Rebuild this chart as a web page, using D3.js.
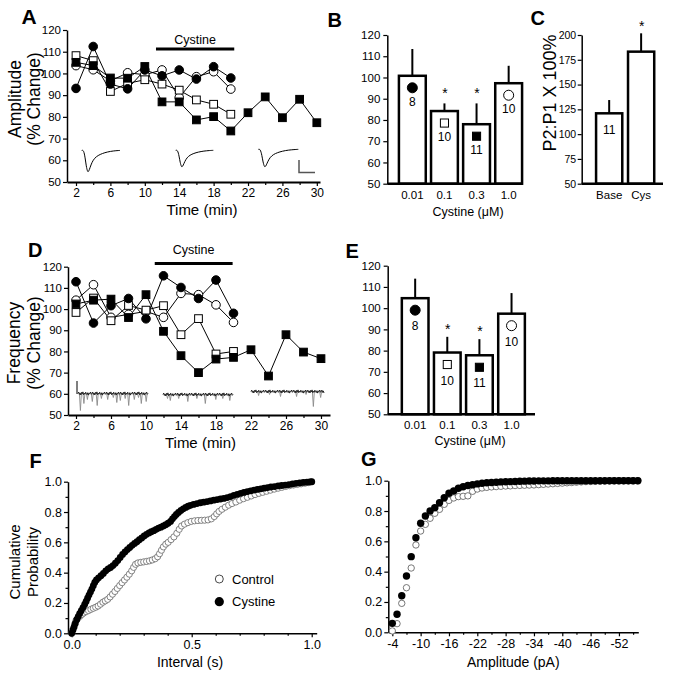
<!DOCTYPE html>
<html><head><meta charset="utf-8">
<script src="https://cdn.jsdelivr.net/npm/d3@7"></script>
<style>
body{margin:0;background:#fff;}
svg text{font-family:"Liberation Sans",Arial,sans-serif;fill:#000;}
</style></head><body>
<svg id="fig" width="676" height="673"></svg>
<script>
// ---------------- DATA ----------------
const timesShort = [2,4,6,8,10,12,14,16,18,20];
const timesLong  = [2,4,6,8,10,12,14,16,18,20,22,24,26,28,30];
const timeTicks  = [2,4,6,8,10,12,14,16,18,20,22,24,26,28,30];
const timeTickLabels = [2,6,10,14,18,22,26,30];
const pctTicks = [50,60,70,80,90,100,110,120];

// Panel A: amplitude (% change)
const ampFilledCircle = [93.1,112.4,95.1,92.9,101.6,98.9,101.6,97.4,103.1,97.9];
const ampOpenCircle   = [103.6,101.7,96.5,100.3,99.4,101.6,88.9,98.5,100.8,92.8];
const ampOpenSquare   = [108.2,105.9,91.7,95.4,97.1,95.1,92.3,87.8,85.8,81.2];
const ampFilledSquare = [105.1,103.6,97.9,97.8,103.2,86.9,86.9,78.6,80.1,73.5,81.9,89.2,79.6,88.1,77.3];
const cystineWindowA = [11.3,20.4];

// Panel D: frequency (% change)
const freqFilledCircle = [112.9,93.4,101.6,105,95.4,115.7,110.2,105,113.7,98];
const freqOpenCircle   = [104.2,111.5,96.1,97.5,98.9,96.1,107.4,106.8,102,93.7];
const freqOpenSquare   = [98.4,105.2,94.5,101.7,99.5,101.6,87.9,95.5,78.8,80];
const freqFilledSquare = [102.4,104.2,104.7,96,106.8,89.5,78,70,76.4,77.2,80.8,68.4,87.9,79.7,76.6];
const cystineWindowD = [11.0,19.9];

// Panels B / E: dose bars
const concLabels = ["0.01","0.1","0.3","1.0"];
const concSymbols = ["fc","os","fs","oc"];
const ampMean = [100.8,84.2,78.0,97.3];
const ampSem  = [12.6,3.6,9.8,8.2];
const ampN    = [8,10,11,10];
const ampSig  = [false,true,true,false];
const freqMean = [104.7,79.1,77.8,97.4];
const freqSem  = [9.2,7.4,7.6,9.7];
const freqN    = [8,10,11,10];
const freqSig  = [false,true,true,false];

// Panel C: paired-pulse ratio
const ppLabels = ["Base","Cys"];
const ppMean = [121,183.2];
const ppSem  = [13.4,18.5];
const ppN    = ["11",""];
const ppSig  = [false,true];
const ppTicks = [50,75,100,125,150,175,200];

// Panel F: cumulative probability of inter-event interval (s)
const intervalCystine = [
[0.000,0.000],[0.005,0.020],[0.010,0.042],[0.015,0.065],[0.021,0.090],[0.027,0.110],[0.033,0.130],[0.040,0.150],
[0.047,0.170],[0.054,0.190],[0.060,0.210],[0.066,0.232],[0.072,0.252],[0.078,0.272],[0.084,0.292],[0.090,0.314],
[0.096,0.335],[0.103,0.352],[0.112,0.366],[0.122,0.380],[0.132,0.395],[0.142,0.412],[0.152,0.425],[0.162,0.434],
[0.172,0.447],[0.182,0.462],[0.192,0.480],[0.202,0.500],[0.212,0.520],[0.222,0.537],[0.232,0.552],[0.242,0.566],
[0.252,0.580],[0.262,0.593],[0.272,0.604],[0.282,0.617],[0.292,0.629],[0.302,0.642],[0.312,0.653],[0.322,0.662],
[0.332,0.670],[0.342,0.677],[0.352,0.686],[0.362,0.694],[0.372,0.700],[0.382,0.708],[0.392,0.716],[0.402,0.726],
[0.412,0.738],[0.420,0.755],[0.428,0.770],[0.436,0.784],[0.445,0.797],[0.455,0.810],[0.465,0.821],[0.475,0.830],
[0.485,0.838],[0.495,0.844],[0.508,0.850],[0.522,0.856],[0.536,0.861],[0.550,0.865],[0.564,0.869],[0.578,0.873],
[0.592,0.878],[0.606,0.882],[0.620,0.886],[0.634,0.890],[0.648,0.895],[0.662,0.902],[0.676,0.910],[0.690,0.917],
[0.704,0.923],[0.718,0.929],[0.732,0.935],[0.746,0.940],[0.760,0.945],[0.774,0.949],[0.788,0.953],[0.802,0.957],
[0.816,0.961],[0.830,0.965],[0.845,0.968],[0.860,0.972],[0.875,0.975],[0.890,0.978],[0.905,0.981],[0.920,0.985],
[0.935,0.989],[0.950,0.992],[0.965,0.995],[0.980,0.997],[0.992,0.999],[1.000,1.000]];
const intervalControl = [
[0.000,0.000],[0.006,0.030],[0.012,0.060],[0.018,0.085],[0.026,0.100],[0.034,0.112],[0.042,0.124],[0.050,0.134],
[0.060,0.143],[0.070,0.150],[0.080,0.158],[0.090,0.165],[0.100,0.172],[0.110,0.180],[0.120,0.192],[0.130,0.205],
[0.140,0.214],[0.150,0.224],[0.160,0.240],[0.170,0.258],[0.180,0.276],[0.190,0.296],[0.200,0.315],[0.210,0.334],
[0.220,0.352],[0.230,0.370],[0.240,0.390],[0.250,0.412],[0.258,0.435],[0.266,0.455],[0.276,0.464],[0.288,0.468],
[0.300,0.471],[0.312,0.474],[0.324,0.478],[0.336,0.484],[0.348,0.492],[0.358,0.505],[0.366,0.525],[0.374,0.548],
[0.382,0.570],[0.392,0.588],[0.402,0.600],[0.414,0.618],[0.426,0.636],[0.438,0.660],[0.448,0.686],[0.458,0.708],
[0.470,0.720],[0.484,0.730],[0.498,0.738],[0.512,0.742],[0.526,0.744],[0.540,0.745],[0.554,0.746],[0.568,0.748],
[0.582,0.755],[0.594,0.770],[0.604,0.788],[0.614,0.804],[0.626,0.818],[0.640,0.832],[0.654,0.845],[0.668,0.856],
[0.684,0.866],[0.700,0.878],[0.716,0.888],[0.732,0.897],[0.748,0.906],[0.764,0.915],[0.780,0.923],[0.796,0.930],
[0.812,0.937],[0.828,0.944],[0.844,0.951],[0.860,0.957],[0.876,0.963],[0.892,0.969],[0.908,0.974],[0.924,0.978],
[0.940,0.982],[0.956,0.986],[0.972,0.990],[0.988,0.994],[1.000,0.998]];

// Panel G: cumulative probability of amplitude (pA), bins -4 .. -56
const ampBins = [-4,-5,-6,-7,-8,-9,-10,-11,-12,-13,-14,-15,-16,-17,-18,-19,-20,-21,-22,-23,-24,-25,-26,-27,-28,-29,-30,
 -31,-32,-33,-34,-35,-36,-37,-38,-39,-40,-41,-42,-43,-44,-45,-46,-47,-48,-49,-50,-51,-52,-53,-54,-55,-56];
const ampCdfCystine = [0.059,0.119,0.241,0.371,0.499,0.624,0.719,0.767,0.800,0.822,0.855,0.888,0.917,0.932,0.950,0.960,0.968,
 0.974,0.979,0.983,0.986,0.988,0.990,0.992,0.993,0.994,0.995,0.996,0.997,0.998,0.998,0.999,0.999,0.999,1,1,1,1,1,1,1,1,1,1,1,1,1,1,1,1,1,1,1];
const ampCdfControl = [0.009,0.057,0.191,0.294,0.424,0.576,0.668,0.712,0.752,0.785,0.811,0.844,0.870,0.886,0.895,0.897,0.900,
 0.930,0.945,0.952,0.956,0.959,0.961,0.963,0.965,0.966,0.968,0.969,0.970,0.971,0.972,0.974,0.976,0.978,0.980,0.982,0.984,
 0.986,0.988,0.990,0.992,0.994,0.995,0.996,0.997,0.998,0.999,1,1,1,1,1,1];
const ampAxisTicks = [-4,-10,-16,-22,-28,-34,-40,-46,-52];

// Inset illustrations (normalised shapes)
const epscShape = [[0,0.02],[0.05,0],[0.09,0.35],[0.12,0.75],[0.15,0.97],[0.17,1],[0.2,0.9],[0.24,0.68],[0.3,0.45],
 [0.38,0.3],[0.48,0.2],[0.6,0.12],[0.75,0.06],[0.9,0.03],[1,0.02]];
const noisePattern = [0,-1.4,0.9,-0.6,1.5,-1.1,0.4,-1.6,1.2,-0.3,0.7,-1.3,0.3,1.1,-0.8,1.6,-0.5,0.2,-1.5,0.8];
const spikeSets = [
 [[0.03,17],[0.08,10],[0.13,6],[0.2,8],[0.27,12],[0.33,5],[0.42,6],[0.5,4],[0.55,9],[0.6,7],[0.67,5],[0.72,12],[0.8,6],[0.86,4],[0.9,10],[0.97,8]],
 [[0.06,4],[0.1,6],[0.22,4],[0.35,7],[0.48,4],[0.6,9],[0.75,5],[0.85,4],[0.95,6]],
 [[0.1,4],[0.25,3],[0.4,5],[0.62,5],[0.75,3],[0.85,15],[0.95,6]]];

// ---------------- DRAWING ----------------
const FONT = '"Liberation Sans", Arial, sans-serif';
const svg = d3.select("#fig");
svg.append("rect").attr("width",676).attr("height",673).attr("fill","#fff");

function styleAxis(g, fs, sw){
  g.attr("font-family", FONT).attr("font-size", fs);
  g.select(".domain").attr("stroke-width", sw).attr("stroke","#000");
  g.selectAll(".tick line").attr("stroke-width", 1.2).attr("stroke","#000");
  g.selectAll(".tick text").attr("fill","#000");
}
function text(x,y,str,opts={}){
  const t = svg.append("text").attr("x",x).attr("y",y).text(str)
    .attr("font-size", opts.size||12).attr("text-anchor", opts.anchor||"middle");
  if (opts.bold) t.attr("font-weight","bold");
  return t;
}
function rotText(x,y,str,size){
  svg.append("text").attr("transform",`translate(${x},${y}) rotate(-90)`)
    .attr("text-anchor","middle").attr("font-size",size).text(str);
}
function sym(g,type,x,y,r){
  if (type==="fc"||type==="oc"){
    g.append("circle").attr("cx",x).attr("cy",y).attr("r",r)
      .attr("fill", type==="fc"?"#000":"#fff").attr("stroke","#000").attr("stroke-width",1);
  } else {
    const s = r*0.9;
    g.append("rect").attr("x",x-s).attr("y",y-s).attr("width",2*s).attr("height",2*s)
      .attr("fill", type==="fs"?"#000":"#fff").attr("stroke","#000").attr("stroke-width",1);
  }
}

// ---- time-course panels (A, D) ----
function timePanel(cfg){
  const g = svg.append("g");
  const x = d3.scaleLinear().domain(cfg.xDomain).range(cfg.xRange);
  const y = d3.scaleLinear().domain([50,120]).range(cfg.yRange);
  const ya = g.append("g").attr("transform",`translate(${cfg.xRange[0]},0)`)
    .call(d3.axisLeft(y).tickValues(pctTicks).tickSize(4).tickSizeOuter(0).tickPadding(2));
  styleAxis(ya,11.5,1.5);
  const xa = g.append("g").attr("transform",`translate(0,${cfg.yRange[0]})`)
    .call(d3.axisBottom(x).tickValues(timeTicks).tickSize(4).tickSizeOuter(0).tickPadding(2)
      .tickFormat(d => timeTickLabels.includes(d) ? d : ""));
  styleAxis(xa,12,1.8);
  xa.selectAll(".tick line").attr("y2", d => timeTickLabels.includes(d) ? 4 : 3);

  // cystine bar
  g.append("line").attr("x1",x(cfg.window[0])).attr("x2",x(cfg.window[1]))
    .attr("y1",cfg.barY).attr("y2",cfg.barY).attr("stroke","#000").attr("stroke-width",3);
  text((x(cfg.window[0])+x(cfg.window[1]))/2, cfg.barY-cfg.labelOff, "Cystine", {size:12.5});

  const line = d3.line().x(d=>x(d[0])).y(d=>y(d[1]));
  cfg.series.forEach(s=>{
    const pts = s.t.map((t,i)=>[t,s.v[i]]);
    g.append("path").attr("d",line(pts)).attr("fill","none").attr("stroke","#000").attr("stroke-width",1);
  });
  cfg.series.forEach(s=>{
    s.t.forEach((t,i)=> sym(g,s.sym,x(t),y(s.v[i]),4.3));
  });
  return {g,x,y};
}

const A = timePanel({xDomain:[0.953,30.37], xRange:[67,320], yRange:[182,30], window:cystineWindowA, barY:49, labelOff:5.5,
  series:[
    {t:timesShort, v:ampOpenCircle, sym:"oc"},
    {t:timesShort, v:ampOpenSquare, sym:"os"},
    {t:timesLong,  v:ampFilledSquare, sym:"fs"},
    {t:timesShort, v:ampFilledCircle, sym:"fc"}]});

const D = timePanel({xDomain:[1.086,31.03], xRange:[68,330], yRange:[415,266.7], window:cystineWindowD, barY:263.5, labelOff:10,
  series:[
    {t:timesShort, v:freqOpenCircle, sym:"oc"},
    {t:timesShort, v:freqOpenSquare, sym:"os"},
    {t:timesLong,  v:freqFilledSquare, sym:"fs"},
    {t:timesShort, v:freqFilledCircle, sym:"fc"}]});

// EPSC inset traces in A
[[81.7,120,150,22],[175.7,213.3,150,17],[258.3,298.3,149,18]].forEach(([x0,x1,b,dep])=>{
  const sx = d3.scaleLinear().domain([0,1]).range([x0,x1]);
  const sy = d3.scaleLinear().domain([0,1]).range([b,b+dep]);
  A.g.append("path").attr("d", d3.line().curve(d3.curveBasis).x(d=>sx(d[0])).y(d=>sy(d[1]))(epscShape))
    .attr("fill","none").attr("stroke","#000").attr("stroke-width",1);
});
A.g.append("path").attr("d","M299,160V172.5H315").attr("fill","none").attr("stroke","#555").attr("stroke-width",1.5);

// sEPSC sweeps in D
[[78,148,393.5],[163,233,394.5],[251,324,391.5]].forEach(([x0,x1,b],k)=>{
  const sx = d3.scaleLinear().domain([0,1]).range([x0,x1]);
  spikeSets[k].forEach(([f,dep])=>{
    const xx = sx(f);
    D.g.append("path").attr("d",`M${xx-0.7},${b}L${xx+0.3},${b+dep}L${xx+1.3},${b}`)
      .attr("fill","none").attr("stroke","#8a8a8a").attr("stroke-width",0.9);
  });
  const n = Math.round((x1-x0)/0.7);
  const pts = d3.range(n+1).map(i=>[x0+i*(x1-x0)/n, b+noisePattern[i%noisePattern.length]]);
  D.g.append("path").attr("d", d3.line()(pts)).attr("fill","none").attr("stroke","#222").attr("stroke-width",1);
});
D.g.append("line").attr("x1",77).attr("x2",77).attr("y1",381).attr("y2",394).attr("stroke","#000").attr("stroke-width",1);

// axis titles A / D
rotText(21,99,"Amplitude",17.5);
rotText(39.5,99,"(% Change)",17.5);
text(202,214.5,"Time (min)",{size:15});
rotText(20,343,"Frequency",17.5);
rotText(39.5,343,"(% Change)",17.5);
text(200.5,447.5,"Time (min)",{size:15});

// ---- bar panels ----
function barPanel(cfg){
  const g = svg.append("g");
  const x = d3.scaleBand().domain(cfg.labels).range(cfg.xRange).paddingInner(cfg.pi).paddingOuter(cfg.po);
  const y = d3.scaleLinear().domain(cfg.yDomain).range(cfg.yRange);
  const ya = g.append("g").attr("transform",`translate(${cfg.xRange[0]},0)`)
    .call(d3.axisLeft(y).tickValues(cfg.yTicks).tickSize(4).tickSizeOuter(0).tickPadding(cfg.tickPad));
  styleAxis(ya,cfg.tickFs,1.5);
  const xa = g.append("g").attr("transform",`translate(0,${cfg.yRange[0]})`)
    .call(d3.axisBottom(x).tickSize(0).tickPadding(7));
  styleAxis(xa,11.5,0);
  xa.select(".domain").remove();
  cfg.labels.forEach((l,i)=>{
    const x0 = x(l), w = x.bandwidth(), top = y(cfg.mean[i]);
    const errTop = y(cfg.mean[i]+cfg.sem[i]);
    g.append("line").attr("x1",x0+w/2).attr("x2",x0+w/2).attr("y1",top).attr("y2",errTop)
      .attr("stroke","#000").attr("stroke-width",2);
    g.append("rect").attr("x",x0).attr("y",top).attr("width",w).attr("height",cfg.yRange[0]-top)
      .attr("fill","#fff").attr("stroke","#000").attr("stroke-width",2.5);
    if (cfg.sym){
      const t = cfg.sym[i];
      sym(g,t,x0+w/2,top+12,(t==="fc"||t==="oc")?5:4.5);
      g.append("text").attr("x",x0+w/2).attr("y",top+12+cfg.nOff).attr("text-anchor","middle")
        .attr("font-size",12).text(cfg.n[i]);
    } else if (cfg.n[i]!==""){
      g.append("text").attr("x",x0+w/2).attr("y",top+21).attr("text-anchor","middle")
        .attr("font-size",12).text(cfg.n[i]);
    }
    if (cfg.sig[i]){
      g.append("text").attr("x",x0+w/2+0.5).attr("y",errTop-cfg.starOff).attr("text-anchor","middle")
        .attr("font-size",14).text("*");
    }
  });
  g.append("line").attr("x1",cfg.xRange[0]).attr("x2",cfg.axisEnd).attr("y1",cfg.yRange[0]).attr("y2",cfg.yRange[0])
    .attr("stroke","#000").attr("stroke-width",2.5);
  return {g,x,y};
}

barPanel({labels:concLabels, xRange:[387.3,533.7], pi:0.164, po:0.362, axisEnd:522.5,
  yDomain:[50,120], yRange:[183.7,35], yTicks:pctTicks, tickFs:11.5, tickPad:3,
  mean:ampMean, sem:ampSem, n:ampN, sig:ampSig, sym:concSymbols, nOff:18, starOff:5});
text(468,216,"Cystine (μM)",{size:12.5});

barPanel({labels:concLabels, xRange:[387.7,539], pi:0.17, po:0.44, axisEnd:535,
  yDomain:[50,120], yRange:[414.3,265.7], yTicks:pctTicks, tickFs:11.5, tickPad:3,
  mean:freqMean, sem:freqSem, n:freqN, sig:freqSig, sym:concSymbols, nOff:20, starOff:3});
text(470,444.5,"Cystine (μM)",{size:12.5});

barPanel({labels:ppLabels, xRange:[581.7,668.6], pi:0.18, po:0.45, axisEnd:663,
  yDomain:[50,200], yRange:[183.7,35], yTicks:ppTicks, tickFs:10.5, tickPad:1.5,
  mean:ppMean, sem:ppSem, n:ppN, sig:ppSig, sym:null, starOff:2});
rotText(556,93,"P2:P1 X 100%",18);

// ---- cumulative panels ----
// F
{
  const g = svg.append("g");
  const x = d3.scaleLinear().domain([-0.0154,1.0208]).range([68,316.7]);
  const y = d3.scaleLinear().domain([0,1]).range([633.3,481.7]);
  const ya = g.append("g").attr("transform","translate(68,0)")
    .call(d3.axisLeft(y).tickValues(d3.range(0,1.01,0.1)).tickSize(4).tickSizeOuter(0).tickPadding(2)
      .tickFormat((d,i)=> i%2===0 ? d3.format(".1f")(d) : ""));
  styleAxis(ya,12.5,1.5);
  ya.selectAll(".tick line").attr("x2",(d,i)=> i%2===0 ? -4 : -2.5);
  const xa = g.append("g").attr("transform","translate(0,633.3)")
    .call(d3.axisBottom(x).tickValues(d3.range(0,1.01,0.1)).tickSize(4).tickSizeOuter(0).tickPadding(3)
      .tickFormat((d,i)=> i%5===0 ? d3.format(".1f")(d) : ""));
  styleAxis(xa,12.5,1.5);
  xa.selectAll(".tick line").attr("y2",(d,i)=> i%5===0 ? 4 : 2.5);
  intervalControl.forEach(d=> g.append("circle").attr("cx",x(d[0])).attr("cy",y(d[1])).attr("r",3.1)
    .attr("fill","#fff").attr("stroke","#666").attr("stroke-width",0.8));
  intervalCystine.forEach(d=> g.append("circle").attr("cx",x(d[0])).attr("cy",y(d[1])).attr("r",3.4)
    .attr("fill","#000"));
  // legend
  g.append("circle").attr("cx",219.3).attr("cy",579).attr("r",4).attr("fill","#fff").attr("stroke","#333").attr("stroke-width",0.9);
  g.append("circle").attr("cx",219.3).attr("cy",601.7).attr("r",4.6).attr("fill","#000");
  text(232,583.5,"Control",{size:13,anchor:"start"});
  text(232,606.2,"Cystine",{size:13,anchor:"start"});
  rotText(20,562,"Cumulative",15);
  rotText(38,562,"Probability",15);
  text(190,666.5,"Interval (s)",{size:14});
}
// G
{
  const g = svg.append("g");
  const x = d3.scaleLinear().domain([-3.15,-56.1]).range([388.3,638.3]);
  const y = d3.scaleLinear().domain([0,1]).range([632.3,480.7]);
  const ya = g.append("g").attr("transform","translate(388.3,0)")
    .call(d3.axisLeft(y).tickValues(d3.range(0,1.01,0.1)).tickSize(4).tickSizeOuter(0).tickPadding(2)
      .tickFormat((d,i)=> i%2===0 ? d3.format(".1f")(d) : ""));
  styleAxis(ya,12.5,1.5);
  ya.selectAll(".tick line").attr("x2",(d,i)=> i%2===0 ? -4 : -2.5);
  const minor = d3.range(-4,-56,-3);
  const xa = g.append("g").attr("transform","translate(0,632.3)")
    .call(d3.axisBottom(x).tickValues(minor).tickSize(4).tickSizeOuter(0).tickPadding(3)
      .tickFormat(d=> ampAxisTicks.includes(d) ? d : ""));
  styleAxis(xa,12.5,1.5);
  xa.selectAll(".tick line").attr("y2",d=> ampAxisTicks.includes(d) ? 4 : 2.5);
  ampBins.forEach((b,i)=> g.append("circle").attr("cx",x(b)).attr("cy",y(ampCdfControl[i])).attr("r",3.2)
    .attr("fill","#fff").attr("stroke","#555").attr("stroke-width",0.8));
  ampBins.forEach((b,i)=> g.append("circle").attr("cx",x(b)).attr("cy",y(ampCdfCystine[i])).attr("r",3.7)
    .attr("fill","#000"));
  text(513.3,666.5,"Amplitude (pA)",{size:14});
}

// panel letters
text(21.5,23.5,"A",{size:21,bold:true,anchor:"start"});
text(327.5,27,"B",{size:20,bold:true,anchor:"start"});
text(530.5,25,"C",{size:20,bold:true,anchor:"start"});
text(28,257,"D",{size:20,bold:true,anchor:"start"});
text(345.5,257.5,"E",{size:20,bold:true,anchor:"start"});
text(29.5,467.5,"F",{size:20,bold:true,anchor:"start"});
text(361,466,"G",{size:20,bold:true,anchor:"start"});
</script></body></html>
